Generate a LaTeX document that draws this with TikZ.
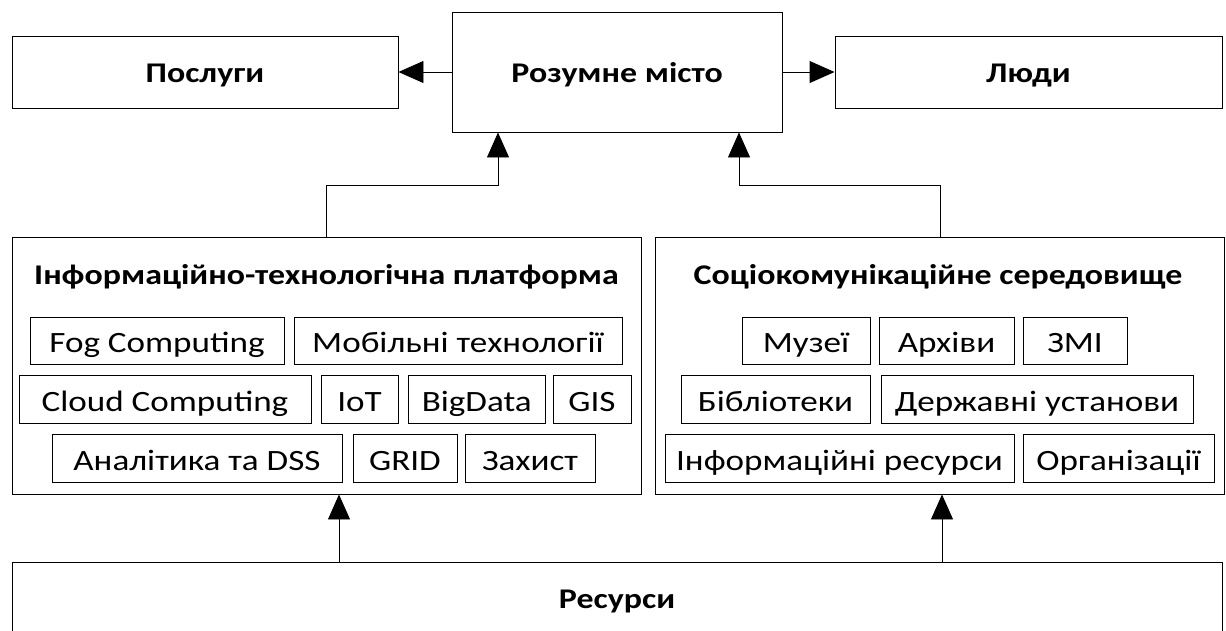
\documentclass[tikz,border=0pt]{standalone}
\usepackage{fontspec}
\setmainfont{Carlito}[FakeStretch=1.19]
\usetikzlibrary{arrows.meta}
\tikzset{
  box/.style={draw=black, line width=0.9pt, rectangle, inner sep=0pt, align=center},
  big/.style={box, text height=24pt, text depth=4pt, font=\fontsize{28.5}{33}\selectfont\bfseries},
  item/.style={box, minimum height=48pt, text height=25pt, text depth=1pt, font=\fontsize{29.5}{34}\selectfont},
  ttl/.style={inner sep=0pt, anchor=base, font=\fontsize{28.5}{33}\selectfont\bfseries},
  arr/.style={draw=black, line width=0.9pt, -{Triangle[length=25pt,width=22pt]}}
}
\begin{document}
\begin{tikzpicture}[x=1pt,y=-1pt]
\useasboundingbox (0,0) rectangle (1226,630);
\clip (0,0) rectangle (1226,630);
% top row
\node[big, minimum width=386pt, minimum height=72pt] (posl) at (205,72) {Послуги};
\node[big, minimum width=330pt, minimum height=120pt] (rozum) at (617,72) {Розумне місто};
\node[big, minimum width=387pt, minimum height=72pt] (lyudy) at (1028.5,72) {Люди};
% middle containers
\node[box, minimum width=629pt, minimum height=257pt] (itp) at (326.5,365.5) {};
\node[box, minimum width=569pt, minimum height=257pt] (sc) at (939.5,365.5) {};
\node[ttl] (itpt) at (326.5,284) {Інформаційно-технологічна платформа};
\node[ttl] (sct) at (938,284) {Соціокомунікаційне середовище};
% ITP items
\node[item, minimum width=254pt, minimum height=47pt] (fog) at (157,340.5) {Fog Computing};
\node[item, minimum width=328pt, minimum height=47pt] (mob) at (458,340.5) {Мобільні технології};
\node[item, minimum width=292pt] (cloud) at (165,399) {Cloud Computing};
\node[item, minimum width=77pt] (iot) at (359.5,399) {IoT};
\node[item, minimum width=136.5pt] (bigd) at (476.75,399) {BigData};
\node[item, minimum width=78pt] (gis) at (592,399) {GIS};
\node[item, minimum width=290pt] (anal) at (197,458) {Аналітика та DSS};
\node[item, minimum width=104pt] (grid) at (405,458) {GRID};
\node[item, minimum width=130pt] (zah) at (530,458) {Захист};
% SC items
\node[item, minimum width=128pt, minimum height=47pt] (muz) at (806,340.5) {Музеї};
\node[item, minimum width=135pt, minimum height=47pt] (arch) at (946.5,340.5) {Архіви};
\node[item, minimum width=104pt, minimum height=47pt] (zmi) at (1075,340.5) {ЗМІ};
\node[item, minimum width=189pt] (bibl) at (775.5,399) {Бібліотеки};
\node[item, minimum width=312pt] (derzh) at (1037,399) {Державні установи};
\node[item, minimum width=349pt] (info) at (839.5,458) {Інформаційні ресурси};
\node[item, minimum width=191pt] (org) at (1118.5,458) {Організації};
% bottom
\node[box, minimum width=1210pt, minimum height=88pt] (res) at (617,606) {};
\node[ttl] (rest) at (617,608) {Ресурси};
% connectors
\draw[arr] (rozum.west) -- (posl.east);
\draw[arr] (rozum.east) -- (lyudy.west);
\coordinate (k1) at (326,185);
\coordinate (k2) at (498,185);
\coordinate (k3) at (940,185);
\coordinate (k4) at (739,185);
\draw[arr] (itp.north -| k1) -- (k1) -- (k2) -- (rozum.south -| k2);
\draw[arr] (sc.north -| k3) -- (k3) -- (k4) -- (rozum.south -| k4);
\coordinate (b1) at (339,530);
\coordinate (b2) at (942,530);
\draw[arr] (res.north -| b1) -- (itp.south -| b1);
\draw[arr] (res.north -| b2) -- (sc.south -| b2);
\end{tikzpicture}
\end{document}
